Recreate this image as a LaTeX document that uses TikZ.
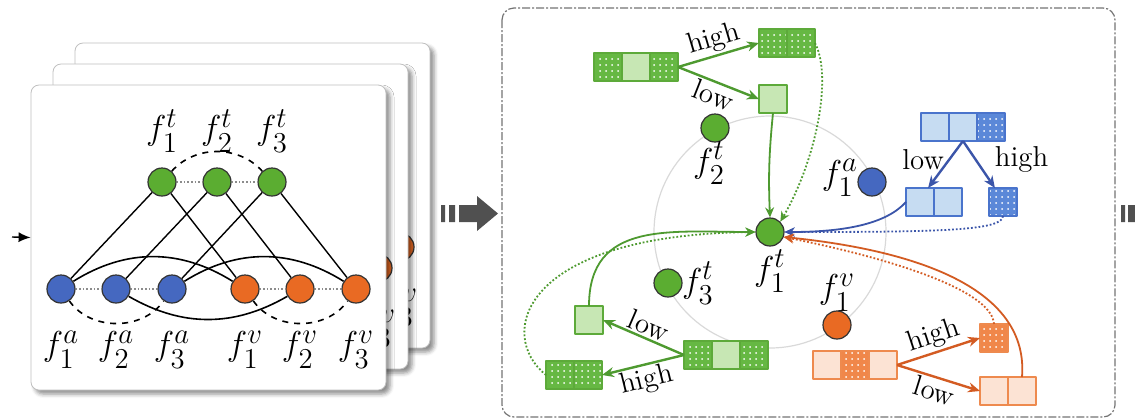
\documentclass[tikz,border=0pt]{standalone}
\usepackage{xcolor}
\usepackage{amsmath,amssymb}
\usepackage{tikz}
\usetikzlibrary{positioning,arrows.meta,patterns,shadows.blur}

\definecolor{tgreen}{HTML}{5BAD31}
\definecolor{ablue}{HTML}{4568C0}
\definecolor{vorange}{HTML}{E96A23}
\definecolor{gline}{HTML}{5DAA3A}
\definecolor{glight}{HTML}{C7E7B4}
\definecolor{gdots}{HTML}{66B843}
\definecolor{garrow}{HTML}{4E9A30}
\definecolor{bline}{HTML}{4A74CC}
\definecolor{blight}{HTML}{C6DCF2}
\definecolor{bdots}{HTML}{5B88D8}
\definecolor{barrow}{HTML}{3B55A9}
\definecolor{oline}{HTML}{EE8A4E}
\definecolor{olight}{HTML}{FCE3D4}
\definecolor{odots}{HTML}{F0874A}
\definecolor{oarrow}{HTML}{D35B22}
\definecolor{darrow}{HTML}{505050}

\tikzset{
  fnode/.style={circle,draw=black!80,line width=0.6pt,minimum size=14pt,inner sep=0pt},
  tn/.style={fnode,fill=tgreen},
  an/.style={fnode,fill=ablue},
  vn/.style={fnode,fill=vorange},
  lbl/.style={font=\fontsize{19}{22}\selectfont,inner sep=0.5pt,text=black},
  hl/.style={font=\Large,inner sep=1pt,text=black},
  card/.style={draw=black!25,fill=white,rounded corners=4pt,minimum width=177.5pt,
    minimum height=152.5pt,blur shadow={shadow xshift=2pt,shadow yshift=-2pt,
    shadow blur radius=2pt,shadow opacity=45}},
  cell/.style={rectangle,minimum size=14pt,inner sep=0pt,outer sep=0pt,line width=0.6pt},
  gl/.style={cell,draw=gline,fill=glight},
  gd/.style={cell,draw=gline,preaction={fill=gdots},pattern=dots,pattern color=white},
  bl/.style={cell,draw=bline,fill=blight},
  bd/.style={cell,draw=bline,preaction={fill=bdots},pattern=dots,pattern color=white},
  ol/.style={cell,draw=oline,fill=olight},
  od/.style={cell,draw=oline,preaction={fill=odots},pattern=dots,pattern color=white},
  br/.style={-{Stealth[length=6pt,width=5pt]},line width=1.2pt},
  fb/.style={-{Stealth[length=5pt,width=4.5pt]},line width=0.9pt},
  fbd/.style={fb,densely dotted}
}

\begin{document}
\begin{tikzpicture}[x=0.5pt,y=-0.5pt,line join=round]
\useasboundingbox (0,0) rectangle (1135,419);

% cards behind (only their right edge shows)
\foreach \k/\dx/\dy in {2/44/-42,1/22/-21}{
  \begin{scope}[shift={(\dx,\dy)}]
    \node[card] (card-\k) at (208.5,237.5) {};
    \node[vn,label={[lbl,label distance=13pt]below:$f_3^v$}] (v3-\k) at (356,289) {};
  \end{scope}
}

% front graph card
\node[card] (card-0) at (208.5,237.5) {};
\foreach \i/\x in {1/162,2/217,3/272}
  \node[tn,label={[lbl,label distance=7pt]above:$f_{\i}^t$}] (t\i) at (\x,182) {};
\foreach \i/\x in {1/61,2/116,3/172}
  \node[an,label={[lbl,label distance=13pt]below:$f_{\i}^a$}] (a\i) at (\x,289) {};
\foreach \i/\x in {1/245,2/300,3/356}
  \node[vn,label={[lbl,label distance=13pt]below:$f_{\i}^v$}] (v\i) at (\x,289) {};
\foreach \m in {t,a,v}{
  \draw[densely dotted,black!45,line width=0.8pt] (\m1) -- (\m2) -- (\m3);
}
\foreach \i in {1,2,3}{
  \draw[line width=0.7pt] (a\i) -- (t\i) -- (v\i);
}
\draw[dashed,line width=0.8pt] (t1) to[bend left=48] (t3);
\draw[dashed,line width=0.8pt] (a1) to[bend right=55] (a3);
\draw[dashed,line width=0.8pt] (v1) to[bend right=55] (v3);
\draw[line width=0.8pt] (a1) to[bend left=32] (v1);
\draw[line width=0.8pt] (a3) to[bend left=32] (v3);
\draw[line width=0.8pt] (a2) to[bend right=30] (v2);

\coordinate (src) at (12,237);
\draw[-{Latex[length=6pt,width=5pt]},line width=0.7pt] (src) -- (card-0.west);

% block arrows
\fill[darrow] (441,205) rectangle (445,222) (449,205) rectangle (455,222);
\fill[darrow] (459,205) -- (477,205) -- (477,196) -- (498,213.5) -- (477,231)
  -- (477,222) -- (459,222) -- cycle;
\fill[darrow] (1121,205) rectangle (1125,222) (1128,205) rectangle (1135,222);

% fusion panel
\draw[black!55,line width=0.6pt,rounded corners=6pt,
  dash pattern=on 4pt off 1pt on 1pt off 1pt] (502,8) rectangle (1115,417);
\node[tn,label={[lbl,label distance=1pt]below:$f_1^t$}] (ft1) at (770,232) {};
\draw[black!15,line width=0.6pt] (ft1) circle[radius=58pt];
\node[tn,label={[lbl,label distance=-1pt,xshift=-3pt]below:$f_2^t$}] (ft2) at (715,128) {};
\node[tn,label={[lbl,label distance=-1pt]right:$f_3^t$}] (ft3) at (668,283) {};
\node[an,label={[lbl,label distance=-1pt,yshift=2pt]left:$f_1^a$}] (fa1) at (872,182) {};
\node[vn,label={[lbl,label distance=-1pt]above:$f_1^v$}] (fv1) at (837,325) {};

% text branch (top)
\node[gd] (GT1) at (608,67) {};
\node[gl,right=0pt of GT1] (GT2) {};
\node[gd,right=0pt of GT2] (GT3) {};
\node[gd] (GTh1) at (773,43) {};
\node[gd,right=0pt of GTh1] (GTh2) {};
\node[gl] (GTl) at (773,99) {};
\draw[br,garrow] (GT3.east) -- node[hl,above,sloped] {high} (GTh1.west);
\draw[br,garrow] (GT3.east) -- node[hl,below,sloped] {low} (GTl.west);
\draw[fb,garrow] (GTl.south) to[bend right=4] (ft1.north);
\draw[fbd,garrow] (GTh2.east) .. controls +(18,35) and +(35,-60) .. (ft1.north east);

% audio branch
\node[bl] (B1) at (935,127) {};
\node[bl,right=0pt of B1] (B2) {};
\node[bd,right=0pt of B2] (B3) {};
\node[bl] (Bl1) at (920,202) {};
\node[bl,right=0pt of Bl1] (Bl2) {};
\node[bd] (Bh) at (1003,202) {};
\draw[br,barrow] (B2.south) -- node[hl,pos=0.4,left=1pt] {low} (Bl1.60);
\draw[br,barrow] (B2.south) -- node[hl,pos=0.4,right=8pt] {high} (Bh.120);
\draw[fb,barrow] (Bl1.west) .. controls +(-20,22) and +(60,0) .. (ft1.east);
\draw[fbd,barrow] (Bh.south) .. controls +(0,15) and +(150,0) .. (ft1.east);

% visual branch
\node[ol] (O1) at (827,365) {};
\node[od,right=0pt of O1] (O2) {};
\node[ol,right=0pt of O2] (O3) {};
\node[od] (Oh) at (994,338) {};
\node[ol] (Ol1) at (994,391) {};
\node[ol,right=0pt of Ol1] (Ol2) {};
\draw[br,oarrow] (O3.east) -- node[hl,above,sloped] {high} (Oh.west);
\draw[br,oarrow] (O3.east) -- node[hl,below,sloped] {low} (Ol1.west);
\draw[fb,oarrow] (Ol2.north) .. controls +(7,-87) and +(137,14) .. (ft1.-20);
\draw[fbd,oarrow] (Oh.north) .. controls +(-2,-35) and +(100,20) .. (ft1.-20);

% text branch (bottom)
\node[gd] (GB1) at (698,355) {};
\node[gl,right=0pt of GB1] (GB2) {};
\node[gd,right=0pt of GB2] (GB3) {};
\node[gl] (GBl) at (589,320) {};
\node[gd] (GBh1) at (560,375) {};
\node[gd,right=0pt of GBh1] (GBh2) {};
\draw[br,garrow] (GB1.west) -- node[hl,above,sloped] {low} (GBl.east);
\draw[br,garrow] (GB1.west) -- node[hl,below,sloped] {high} (GBh2.east);
\draw[fb,garrow] (GBl.north) to[out=90,in=180,looseness=1.2] (ft1.west);
\draw[fbd,garrow] (GBh1.west) .. controls +(-50,-40) and +(-235,3) .. (ft1.west);
\end{tikzpicture}
\end{document}
